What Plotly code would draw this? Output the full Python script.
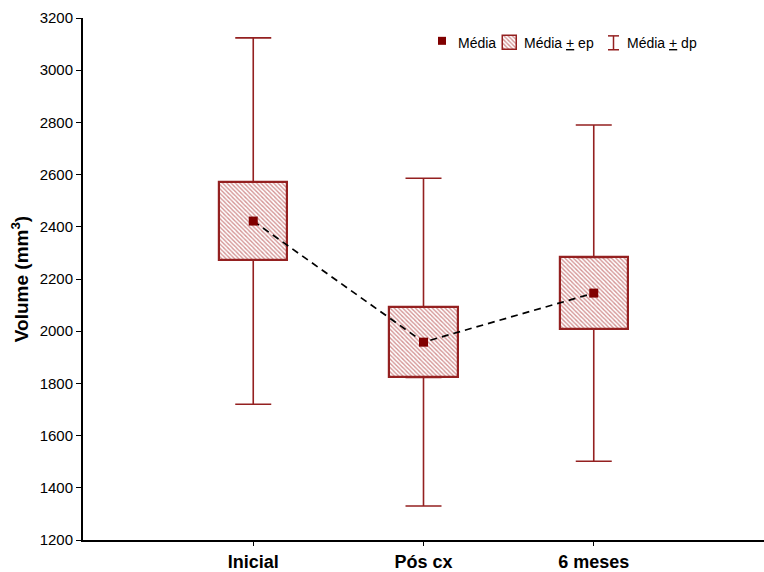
import plotly.graph_objects as go

# Volume measured at three time points: mean, standard error and standard deviation
categories = ["Inicial", "Pós cx", "6 meses"]
means = [2422, 1958, 2146]
std_errors = [150, 135, 137]
std_devs = [702, 628, 644]

positions = [1, 2, 3]
dark_red = "#800000"
box_red = "#942020"
hatch_red = "#A82828"
font_family = "Liberation Sans, Arial, sans-serif"

hatch = dict(shape="\\", fgcolor=hatch_red, bgcolor="white", size=3, solidity=0.45)

fig = go.Figure()

# mean ± standard error boxes, hatched
fig.add_trace(go.Bar(
    x=positions,
    y=[2 * s for s in std_errors],
    base=[m - s for m, s in zip(means, std_errors)],
    width=0.4,
    marker=dict(color="white", line=dict(color=box_red, width=2.2), pattern=hatch),
    showlegend=False,
    hoverinfo="skip",
))

# whiskers: mean ± standard deviation, drawn outside the boxes only
whisker_len = [d - s for d, s in zip(std_devs, std_errors)]
fig.add_trace(go.Scatter(
    x=positions,
    y=[m + s for m, s in zip(means, std_errors)],
    mode="markers",
    marker=dict(size=1, color="rgba(0,0,0,0)"),
    error_y=dict(type="data", symmetric=False, array=whisker_len,
                 arrayminus=[0] * len(means), color=box_red, thickness=1.6, width=18),
    showlegend=False,
    hoverinfo="skip",
))
fig.add_trace(go.Scatter(
    x=positions,
    y=[m - s for m, s in zip(means, std_errors)],
    mode="markers",
    marker=dict(size=1, color="rgba(0,0,0,0)"),
    error_y=dict(type="data", symmetric=False, array=[0] * len(means),
                 arrayminus=whisker_len, color=box_red, thickness=1.6, width=18),
    showlegend=False,
    hoverinfo="skip",
))

# dashed line linking the means
fig.add_trace(go.Scatter(
    x=positions, y=means, mode="lines",
    line=dict(color="black", width=1.7, dash="7px,5px"),
    showlegend=False, hoverinfo="skip",
))

# mean markers
fig.add_trace(go.Scatter(
    x=positions, y=means, mode="markers",
    marker=dict(symbol="square", size=9, color=dark_red, line=dict(width=0)),
    showlegend=False,
))

# legend glyphs on a hidden overlay axis laid out in pixel units
fig.add_trace(go.Scatter(
    x=[442], y=[41], mode="markers", xaxis="x2", yaxis="y2",
    marker=dict(symbol="square", size=8, color=dark_red),
    showlegend=False, hoverinfo="skip",
))
fig.add_trace(go.Bar(
    x=[509.5], y=[14], base=[36], width=14, xaxis="x2", yaxis="y2",
    marker=dict(color="white", line=dict(color=box_red, width=1.5), pattern=hatch),
    showlegend=False, hoverinfo="skip",
))

legend_shapes = [
    dict(type="line", xref="x2", yref="y2", x0=613.5, x1=613.5, y0=36, y1=50),
    dict(type="line", xref="x2", yref="y2", x0=608, x1=619, y0=36, y1=36),
    dict(type="line", xref="x2", yref="y2", x0=608, x1=619, y0=50, y1=50),
]
for s in legend_shapes:
    s["line"] = dict(color=box_red, width=1.5)

legend_font = dict(family=font_family, size=14, color="black")
legend_labels = [(456, "Média"), (522, "Média <u>+</u> ep"), (625, "Média <u>+</u> dp")]
annotations = [
    dict(x=x, y=43, xref="x2", yref="y2", text=t, showarrow=False,
         xanchor="left", yanchor="middle", font=legend_font)
    for x, t in legend_labels
]

fig.update_layout(
    width=764, height=572,
    margin=dict(l=83, r=0, t=18, b=28),
    paper_bgcolor="white", plot_bgcolor="white",
    font=dict(family=font_family, color="black"),
    shapes=legend_shapes,
    annotations=annotations,
    bargap=0,
    xaxis=dict(
        range=[0, 4],
        tickvals=positions, ticktext=categories,
        tickfont=dict(family=font_family, size=18, weight="bold", color="black"),
        ticks="outside", ticklen=4, tickwidth=1, tickcolor="black",
        showline=True, linecolor="black", linewidth=2,
        showgrid=False, zeroline=False,
    ),
    yaxis=dict(
        range=[1200, 3200], tickmode="linear", tick0=1200, dtick=200,
        tickfont=dict(family=font_family, size=15, color="black"),
        ticks="outside", ticklen=5, tickwidth=1, tickcolor="black",
        showline=True, linecolor="black", linewidth=2,
        showgrid=False, zeroline=False,
        title=dict(text="Volume (mm<sup>3</sup>)",
                   font=dict(family=font_family, size=19, weight="bold", color="black"),
                   standoff=6),
    ),
    xaxis2=dict(range=[83, 764], overlaying="x", anchor="y2", visible=False),
    yaxis2=dict(range=[544, 18], overlaying="y", anchor="x2", visible=False),
)

fig.write_html("out.html")
